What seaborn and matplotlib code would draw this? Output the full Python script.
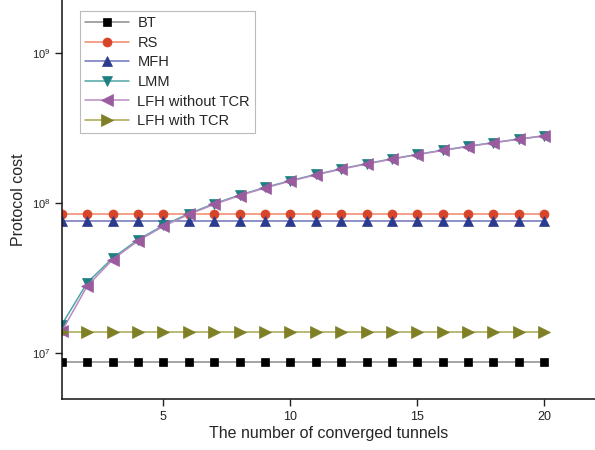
import numpy as np
import pandas as pd
import matplotlib
matplotlib.use("Agg")
import matplotlib.pyplot as plt
import seaborn as sns

# Number of converged tunnels
tunnels = list(range(1, 21))

# Protocol cost for each scheme
bt_cost = [8.75e6] * 20
rs_cost = [8.4e7] * 20
mfh_cost = [7.6e7] * 20
lmm_cost = [1.55e7, 2.95e7, 4.3e7, 5.7e7, 7.1e7, 8.5e7, 9.9e7, 1.13e8, 1.27e8, 1.41e8,
            1.55e8, 1.69e8, 1.83e8, 1.97e8, 2.11e8, 2.25e8, 2.39e8, 2.53e8, 2.67e8, 2.81e8]
lfh_no_tcr_cost = [1.4e7, 2.8e7, 4.2e7, 5.6e7, 7.0e7, 8.4e7, 9.8e7, 1.12e8, 1.26e8, 1.40e8,
                   1.54e8, 1.68e8, 1.82e8, 1.96e8, 2.10e8, 2.24e8, 2.38e8, 2.52e8, 2.66e8, 2.80e8]
lfh_tcr_cost = [1.39e7] * 20

series_names = ["BT", "RS", "MFH", "LMM", "LFH without TCR", "LFH with TCR"]
series_values = [bt_cost, rs_cost, mfh_cost, lmm_cost, lfh_no_tcr_cost, lfh_tcr_cost]

# (marker, marker colour, line colour, marker size)
styles = {
    "BT": ("s", "#000000", "#8c8c8c", 5.5),
    "RS": ("o", "#d6452a", "#f0876a", 6.5),
    "MFH": ("^", "#2b3a8c", "#6f73b8", 7.5),
    "LMM": ("v", "#1d7f7f", "#4fa6a6", 7.5),
    "LFH without TCR": ("<", "#9a5c9f", "#b98bc2", 8),
    "LFH with TCR": (">", "#7f7f26", "#a6a653", 8),
}

frames = []
for name, vals in zip(series_names, series_values):
    frames.append(pd.DataFrame({"tunnels": tunnels, "cost": vals, "scheme": name}))
df = pd.concat(frames, ignore_index=True)

sns.set_style("ticks")
plt.rcParams["font.family"] = ["Liberation Sans", "DejaVu Sans"]

fig = plt.figure(figsize=(5.95, 4.5), dpi=100)
ax = fig.add_axes([0.104, 0.113, 0.896, 0.887])

for name in series_names:
    marker, mcol, lcol, ms = styles[name]
    sub = df[df["scheme"] == name]
    sns.lineplot(data=sub, x="tunnels", y="cost", ax=ax, color=lcol, linewidth=1.1,
                 marker=marker, markersize=ms, markerfacecolor=mcol,
                 markeredgecolor=mcol, markeredgewidth=0.5, label=name)

ax.set_yscale("log")
ax.set_xlim(1, 22)
ax.set_ylim(10 ** 6.693, 10 ** 9.353)
ax.set_xticks([5, 10, 15, 20])
ax.set_yticks([1e7, 1e8, 1e9])
ax.yaxis.set_minor_locator(matplotlib.ticker.NullLocator())
ax.tick_params(axis="both", direction="out", length=5, width=1, labelsize=9,
               colors="#222222")
ax.tick_params(axis="y", labelsize=8)

for side in ("top", "right"):
    ax.spines[side].set_visible(False)
for side in ("left", "bottom"):
    ax.spines[side].set_linewidth(1.1)
    ax.spines[side].set_color("#111111")

ax.set_xlabel("The number of converged tunnels", fontsize=11.5, labelpad=2)
ax.set_ylabel("Protocol cost", fontsize=11.5, labelpad=4)

leg = ax.legend(loc="upper left", bbox_to_anchor=(0.02, 0.99), fontsize=10.5,
                frameon=True, fancybox=False, edgecolor="#aaaaaa", handlelength=3.0,
                borderpad=0.35, labelspacing=0.38, handletextpad=0.6)
leg.get_frame().set_linewidth(0.8)

fig.savefig("out.png", dpi=100)
